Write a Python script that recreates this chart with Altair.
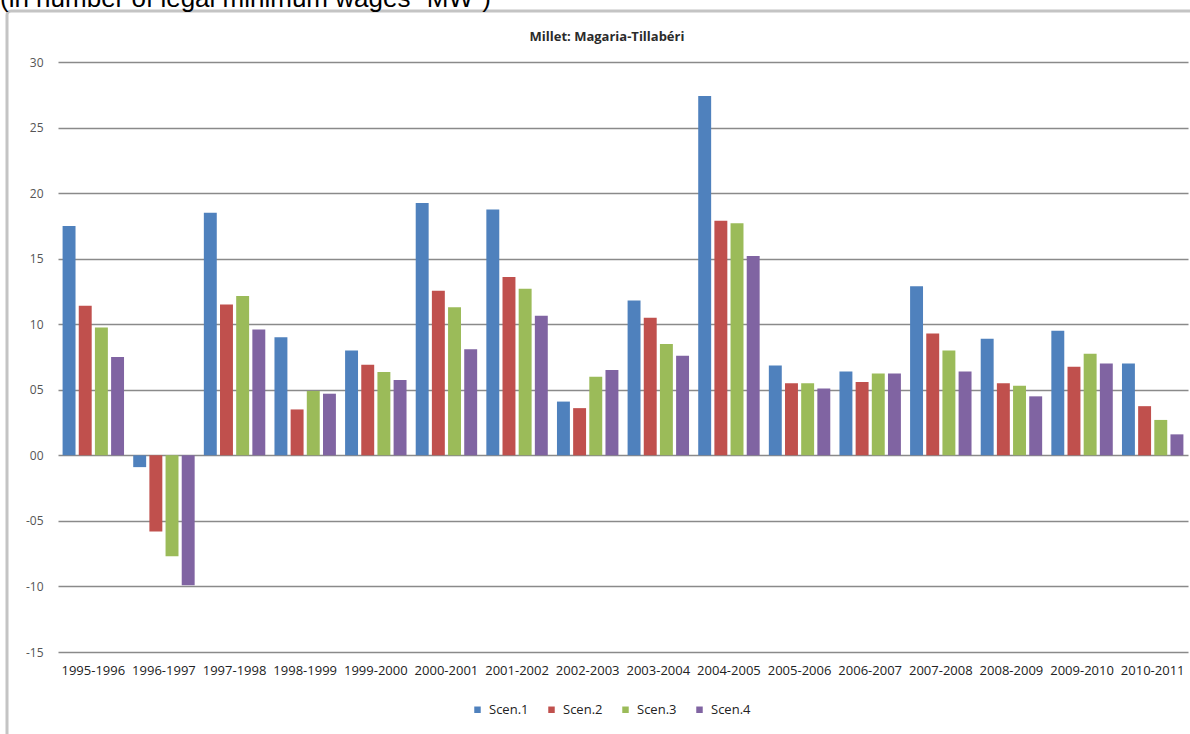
import altair as alt
import pandas as pd

# Marketing seasons on the category axis
seasons = ["1995-1996", "1996-1997", "1997-1998", "1998-1999", "1999-2000",
           "2000-2001", "2001-2002", "2002-2003", "2003-2004", "2004-2005",
           "2005-2006", "2006-2007", "2007-2008", "2008-2009", "2009-2010",
           "2010-2011"]

# Results per scenario
scen1 = [17.5, -0.9, 18.5, 9.0, 8.0, 19.25, 18.75, 4.1, 11.8, 27.4, 6.85, 6.4, 12.9, 8.9, 9.5, 7.0]
scen2 = [11.4, -5.8, 11.5, 3.5, 6.9, 12.55, 13.6, 3.6, 10.5, 17.9, 5.5, 5.6, 9.3, 5.5, 6.75, 3.75]
scen3 = [9.75, -7.7, 12.15, 4.9, 6.35, 11.3, 12.7, 6.0, 8.5, 17.7, 5.5, 6.25, 8.0, 5.3, 7.75, 2.7]
scen4 = [7.5, -9.9, 9.6, 4.7, 5.75, 8.1, 10.65, 6.5, 7.6, 15.2, 5.1, 6.25, 6.4, 4.5, 7.0, 1.6]

series_names = ["Scen.1", "Scen.2", "Scen.3", "Scen.4"]
series_colors = ["#4F81BD", "#C0504D", "#9BBB59", "#8064A2"]

y_ticks = [-15, -10, -5, 0, 5, 10, 15, 20, 25, 30]

page_heading = '(in number of legal minimum wages "MW")'
chart_title = "Millet: Magaria-Tillabéri"

rows = []
for name, vals in zip(series_names, [scen1, scen2, scen3, scen4]):
    for season, v in zip(seasons, vals):
        rows.append({"season": season, "scenario": name, "value": v})
df = pd.DataFrame(rows)

one = pd.DataFrame({"k": [0]})

W, H = 1130, 590

frame = alt.Chart(one).mark_rect(
    filled=False, stroke="#c4c4c4", strokeWidth=3, cornerRadius=4
).encode(
    x=alt.value(-51), x2=alt.value(W + 20),
    y=alt.value(-51), y2=alt.value(H + 120)
)

heading = alt.Chart(one).mark_text(
    align="left", baseline="alphabetic", font="Liberation Sans",
    fontSize=26, color="#000000"
).encode(x=alt.value(-58), y=alt.value(-55), text=alt.value(page_heading))

title = alt.Chart(one).mark_text(
    align="center", baseline="middle", font="Open Sans",
    fontSize=13, fontWeight="bold", color="#2b2b2b"
).encode(x=alt.value(549), y=alt.value(-25), text=alt.value(chart_title))

bars = alt.Chart(df).mark_bar().encode(
    x=alt.X("season:N", sort=seasons,
            scale=alt.Scale(paddingInner=0.13, paddingOuter=0.065),
            axis=alt.Axis(title=None, labelAngle=0, domain=False, ticks=False,
                          labelPadding=12, labelFontSize=13, labelFont="Open Sans",
                          labelColor="#222222", grid=False)),
    xOffset=alt.XOffset("scenario:N", sort=series_names,
                        scale=alt.Scale(paddingInner=0.2, paddingOuter=0)),
    y=alt.Y("value:Q",
            scale=alt.Scale(domain=[-15, 30], nice=False, zero=False),
            axis=alt.Axis(title=None, values=y_ticks, domain=False, ticks=False,
                          labelPadding=15, labelFontSize=12, labelFont="Open Sans",
                          labelColor="#555555", gridColor="#8a8a8a", gridWidth=1.5,
                          labelExpr="(datum.value < 0 ? '-' : '') + (abs(datum.value) < 10 ? '0' : '') + abs(datum.value)")),
    color=alt.Color("scenario:N", sort=series_names,
                    scale=alt.Scale(domain=series_names, range=series_colors),
                    legend=alt.Legend(title=None, orient="none", legendX=413, legendY=641,
                                      direction="horizontal", symbolType="square",
                                      symbolSize=42, symbolStrokeWidth=0,
                                      labelFont="Open Sans", labelFontSize=13,
                                      labelColor="#222222", labelOffset=5,
                                      columnPadding=16))
)

chart = alt.layer(frame, heading, title, bars).properties(
    width=W, height=H,
    autosize=alt.AutoSizeParams(type="none"),
    padding={"left": 58, "top": 62, "right": 2, "bottom": 82},
    background="white"
).configure_view(stroke=None)

chart.save("out.html", embed_options={"renderer": "svg", "actions": False})
